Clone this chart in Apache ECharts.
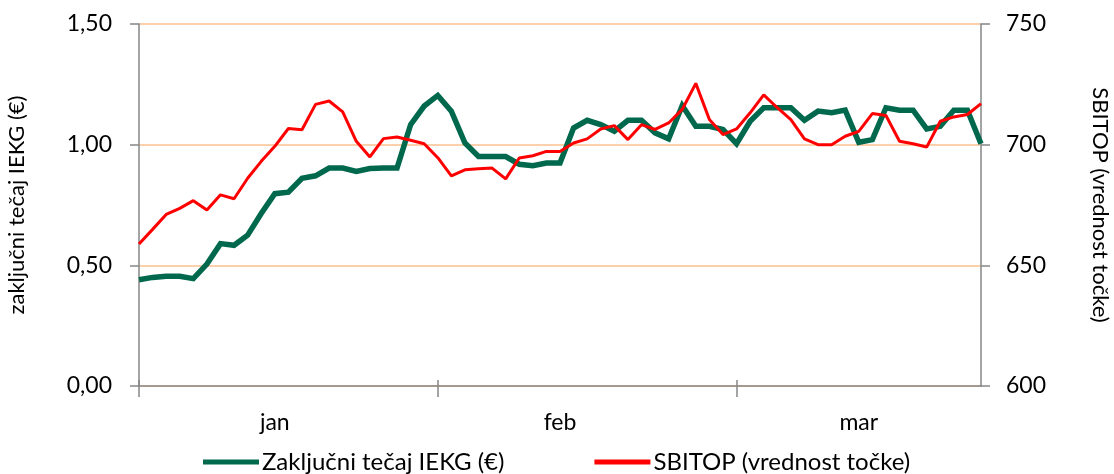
<!DOCTYPE html>
<html>
<head>
<meta charset="utf-8">
<script src="https://cdn.jsdelivr.net/npm/echarts@6/dist/echarts.min.js"></script>
<style>
html,body{margin:0;padding:0;background:#fff;}
#chart{width:1114px;height:474px;}
</style>
</head>
<body>
<div id="chart"></div>
<script>
// Month names and number of trading days per month on the category axis
var months = ['jan', 'feb', 'mar'];
var monthDays = [22, 22, 19];
// Category index where each month label is drawn
var monthLabelIndex = [10, 31, 53];

// Closing price of IEKG (EUR), left axis
var iekg = [0.44,0.45,0.455,0.455,0.445,0.505,0.59,0.583,0.625,0.715,0.797,0.803,0.861,0.871,0.903,0.903,0.889,0.901,0.903,0.903,
1.083,1.16,1.204,1.139,1.007,0.951,0.951,0.951,0.919,0.913,0.924,0.924,1.069,1.101,1.083,1.056,1.101,1.101,1.049,1.024,
1.162,1.076,1.076,1.063,1.004,1.097,1.153,1.153,1.153,1.101,1.139,1.132,1.143,1.010,1.021,1.153,1.143,1.143,1.065,1.076,
1.143,1.143,1.004];

// SBITOP index value, right axis
var sbitop = [658.8,664.9,671.1,673.6,676.8,672.9,679.2,677.6,686.1,693.1,699.3,706.7,706.2,716.7,718.1,713.6,701.4,694.9,702.5,703.2,
701.8,700.4,694.6,687.1,689.6,690.0,690.3,685.8,694.5,695.4,697.2,697.2,700.7,702.4,706.5,707.9,702.1,708.3,706.3,709.0,
714.6,725.4,710.4,704.2,706.5,713.2,720.6,715.3,710.4,702.4,700.0,700.0,703.5,705.5,712.9,712.1,701.4,700.4,699.0,709.7,
711.5,712.5,717.0];

var leftTicks = {min: 0, max: 1.5, interval: 0.5};
var rightTicks = {min: 600, max: 750, interval: 50};

var seriesNames = ['Zaključni tečaj IEKG (€)', 'SBITOP (vrednost točke)'];
var leftName = 'zaključni tečaj IEKG (€)';
var rightName = 'SBITOP (vrednost točke)';

// build categories and month boundaries
var categories = [];
var boundaries = [];
for (var m = 0; m < months.length; m++) {
  boundaries.push(categories.length);
  for (var d = 0; d < monthDays[m]; d++) categories.push(months[m] + ' ' + (d + 1));
}

var FONT = 'Lato';
var AX = '#868686';

var chart = echarts.init(document.getElementById('chart'));
chart.setOption({
  animation: false,
  textStyle: {fontFamily: FONT},
  grid: {left: 139, right: 133, top: 24, bottom: 88, containLabel: false, outerBoundsMode: 'none'},
  legend: {
    left: 198, top: 445,
    icon: 'rect',
    itemWidth: 56, itemHeight: 5, itemGap: 90,
    textStyle: {fontFamily: FONT, fontSize: 24, color: '#000', padding: [0, 0, 0, -2]},
    data: seriesNames
  },
  xAxis: [{
    type: 'category', data: categories, boundaryGap: false,
    axisLine: {lineStyle: {color: AX, width: 1.5}},
    axisTick: {show: true, length: 11, lineStyle: {color: AX, width: 1.5},
      interval: function (i) { return boundaries.indexOf(i) >= 0; }},
    axisLabel: {margin: 25, fontSize: 23, color: '#000', fontFamily: FONT,
      interval: function (i) { return monthLabelIndex.indexOf(i) >= 0; },
      formatter: function (v, i) { return v.split(' ')[0]; }},
    splitLine: {show: false}
  }, {
    type: 'category', data: categories, boundaryGap: false, position: 'bottom',
    axisLine: {show: false},
    axisTick: {show: true, inside: true, length: 6, lineStyle: {color: AX, width: 1.5},
      interval: function (i) { return boundaries.indexOf(i) >= 0; }},
    axisLabel: {show: false},
    splitLine: {show: false}
  }],
  yAxis: [{
    type: 'value', position: 'left',
    min: leftTicks.min, max: leftTicks.max, interval: leftTicks.interval,
    name: leftName, nameLocation: 'middle', nameGap: 111, nameRotate: 90,
    nameTextStyle: {fontSize: 22, color: '#000', fontFamily: FONT},
    axisLine: {show: true, lineStyle: {color: AX, width: 1.5}},
    axisTick: {show: true, length: 9, lineStyle: {color: AX, width: 1.5}},
    axisLabel: {margin: 27, fontSize: 23, color: '#000', fontFamily: FONT,
      formatter: function (v) { return v.toFixed(2).replace('.', ','); }},
    splitLine: {show: true, lineStyle: {color: '#FAC08F', width: 1.5}}
  }, {
    type: 'value', position: 'right',
    min: rightTicks.min, max: rightTicks.max, interval: rightTicks.interval,
    name: rightName, nameLocation: 'middle', nameGap: 108, nameRotate: -90,
    nameTextStyle: {fontSize: 22, color: '#000', fontFamily: FONT},
    axisLine: {show: true, lineStyle: {color: AX, width: 1.5}},
    axisTick: {show: true, length: 9, lineStyle: {color: AX, width: 1.5}},
    axisLabel: {margin: 25, fontSize: 23, color: '#000', fontFamily: FONT},
    splitLine: {show: false}
  }],
  series: [{
    name: seriesNames[0], type: 'line', xAxisIndex: 0, yAxisIndex: 0,
    data: iekg, symbol: 'none', z: 3,
    lineStyle: {color: '#00684C', width: 5.5, join: 'miter'},
    itemStyle: {color: '#00684C'}
  }, {
    name: seriesNames[1], type: 'line', xAxisIndex: 0, yAxisIndex: 1,
    data: sbitop, symbol: 'none', z: 4,
    lineStyle: {color: '#FF0000', width: 3},
    itemStyle: {color: '#FF0000'}
  }]
});
</script>
</body>
</html>
